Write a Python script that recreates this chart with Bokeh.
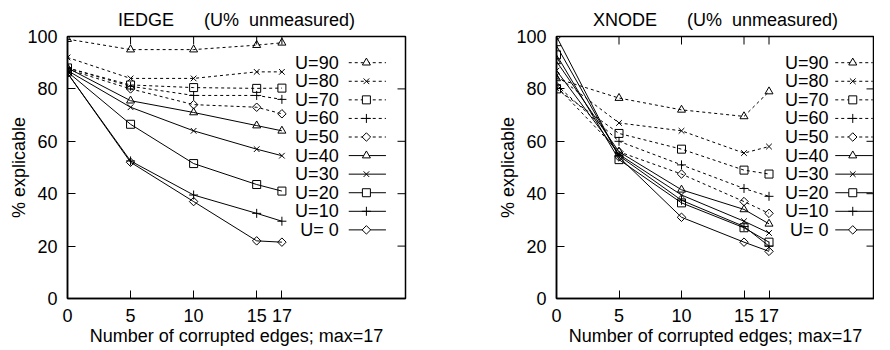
import math
from bokeh.plotting import figure
from bokeh.models import Range1d, FixedTicker
from bokeh.layouts import row
from bokeh.core.properties import value
from bokeh.embed import file_html
from bokeh.resources import INLINE

# ---------------- data ----------------
x_corrupted = [0, 5, 10, 15, 17]
u_levels = [90, 80, 70, 60, 50, 40, 30, 20, 10, 0]
x_ticks = [0, 5, 10, 15, 17]
y_ticks = [0, 20, 40, 60, 80, 100]
x_mirror_ticks = [5, 10, 15, 17]
y_mirror_ticks = [20, 40, 60, 80]

iedge_u90 = [99.0, 95.0, 95.0, 96.7, 97.6]
iedge_u80 = [92.0, 84.0, 84.0, 86.5, 86.5]
iedge_u70 = [88.0, 81.5, 80.5, 80.2, 80.3]
iedge_u60 = [88.0, 81.0, 77.5, 77.5, 76.0]
iedge_u50 = [87.5, 80.0, 74.0, 73.0, 70.5]
iedge_u40 = [88.0, 75.5, 71.0, 66.0, 64.0]
iedge_u30 = [87.0, 73.0, 64.0, 57.0, 54.5]
iedge_u20 = [86.5, 66.5, 51.5, 43.5, 41.0]
iedge_u10 = [86.0, 52.5, 39.5, 32.5, 29.5]
iedge_u0 = [86.0, 52.0, 37.0, 22.0, 21.5]

xnode_u90 = [84.0, 76.5, 72.0, 69.5, 79.0]
xnode_u80 = [85.0, 67.0, 64.0, 55.5, 58.0]
xnode_u70 = [80.0, 63.0, 57.0, 49.0, 47.5]
xnode_u60 = [81.5, 60.0, 51.0, 42.0, 39.0]
xnode_u50 = [81.0, 56.0, 47.5, 37.0, 32.5]
xnode_u40 = [90.5, 56.0, 41.5, 34.0, 28.5]
xnode_u30 = [87.0, 55.0, 39.5, 29.5, 25.0]
xnode_u20 = [93.0, 53.0, 36.5, 27.0, 21.5]
xnode_u10 = [96.5, 54.5, 37.5, 27.5, 20.0]
xnode_u0 = [100.0, 54.0, 31.0, 21.5, 18.0]

iedge_series = [iedge_u90, iedge_u80, iedge_u70, iedge_u60, iedge_u50,
                iedge_u40, iedge_u30, iedge_u20, iedge_u10, iedge_u0]
xnode_series = [xnode_u90, xnode_u80, xnode_u70, xnode_u60, xnode_u50,
                xnode_u40, xnode_u30, xnode_u20, xnode_u10, xnode_u0]

# ---------------- styles ----------------
FONT = "Liberation Sans"
FS = "18px"
NB = "\u00a0"
markers = ["triangle", "x", "square", "cross", "diamond"] * 2
dashes = ["3 3"] * 5 + ["solid"] * 5


def marker_kwargs(m):
    if m == "diamond":
        return dict(marker="square", angle=math.pi / 4, size=6)
    if m == "triangle":
        return dict(marker="triangle", size=8)
    if m == "x":
        return dict(marker="x", size=8)
    if m == "cross":
        return dict(marker="cross", size=9)
    return dict(marker="square", size=8)


def make_fig(name, series, x_end, width, border_right,
             leg_text_x, leg_x0, leg_xm, leg_x1):
    title = name + NB * 6 + "(U%" + NB * 2 + "unmeasured)"
    p = figure(width=width, height=348, x_range=Range1d(0, x_end),
               y_range=Range1d(0, 100), output_backend="svg",
               toolbar_location=None, min_border_left=67,
               min_border_right=border_right, min_border_top=36,
               min_border_bottom=10, title=title)
    p.grid.visible = False
    p.outline_line_color = "black"
    p.outline_line_width = 1.5
    p.background_fill_color = "white"
    p.border_fill_color = "white"

    p.title.align = "center"
    p.title.text_font = FONT
    p.title.text_font_size = FS
    p.title.text_font_style = "normal"
    p.title.text_color = "black"
    p.title.standoff = 13

    for ax, ticks in ((p.xaxis[0], x_ticks), (p.yaxis[0], y_ticks)):
        ax.ticker = FixedTicker(ticks=ticks)
        ax.major_tick_in = 8
        ax.major_tick_out = 0
        ax.minor_tick_line_color = None
        ax.axis_line_color = "black"
        ax.axis_line_width = 1.5
        ax.major_tick_line_color = "black"
        ax.major_label_text_font = FONT
        ax.major_label_text_font_size = FS
        ax.major_label_text_color = "black"
        ax.axis_label_text_font = FONT
        ax.axis_label_text_font_size = FS
        ax.axis_label_text_font_style = "normal"
        ax.axis_label_text_color = "black"
    p.xaxis[0].major_label_standoff = 10
    p.xaxis[0].axis_label_standoff = 1
    p.yaxis[0].major_label_standoff = 10
    p.yaxis[0].axis_label_standoff = -5
    p.xaxis[0].axis_label = "Number of corrupted edges; max=17"
    p.yaxis[0].axis_label = "% explicable"

    # mirrored tick marks on top and right edges
    p.ray(x=x_mirror_ticks, y=[100] * len(x_mirror_ticks), length=8,
          length_units="screen", angle=-math.pi / 2, line_color="black",
          line_width=1)
    p.ray(x=[x_end] * len(y_mirror_ticks), y=y_mirror_ticks, length=8,
          length_units="screen", angle=math.pi, line_color="black",
          line_width=1)

    # data
    for ys, m, d in zip(series, markers, dashes):
        p.line(x_corrupted, ys, line_color="black", line_width=1, line_dash=d)
        p.scatter(x_corrupted, ys, fill_color=None, line_color="black",
                  line_width=1, **marker_kwargs(m))

    # key (label then sample, gnuplot style)
    for i, (u, m, d) in enumerate(zip(u_levels, markers, dashes)):
        yk = 90.0 - 7.09 * i
        p.text(x=[leg_text_x], y=[yk], text=[f"U={u:>2}"],
               text_font=value(FONT), text_font_size=value(FS),
               text_align="right", text_baseline="middle",
               text_color="black")
        p.segment(x0=[leg_x0], y0=[yk], x1=[leg_x1], y1=[yk],
                  line_color="black", line_width=1, line_dash=d)
        p.scatter([leg_xm], [yk], fill_color="white", line_color="black",
                  line_width=1, **marker_kwargs(m))
    return p


p1 = make_fig("IEDGE", iedge_series, 26.8, 489, 84,
              21.5, 22.3, 23.7, 25.25)
p2 = make_fig("XNODE", xnode_series, 25.44, 385, 0,
              21.76, 22.3, 23.7, 25.3)

layout = row(p1, p2)
open("out.html", "w").write(file_html(layout, INLINE))
